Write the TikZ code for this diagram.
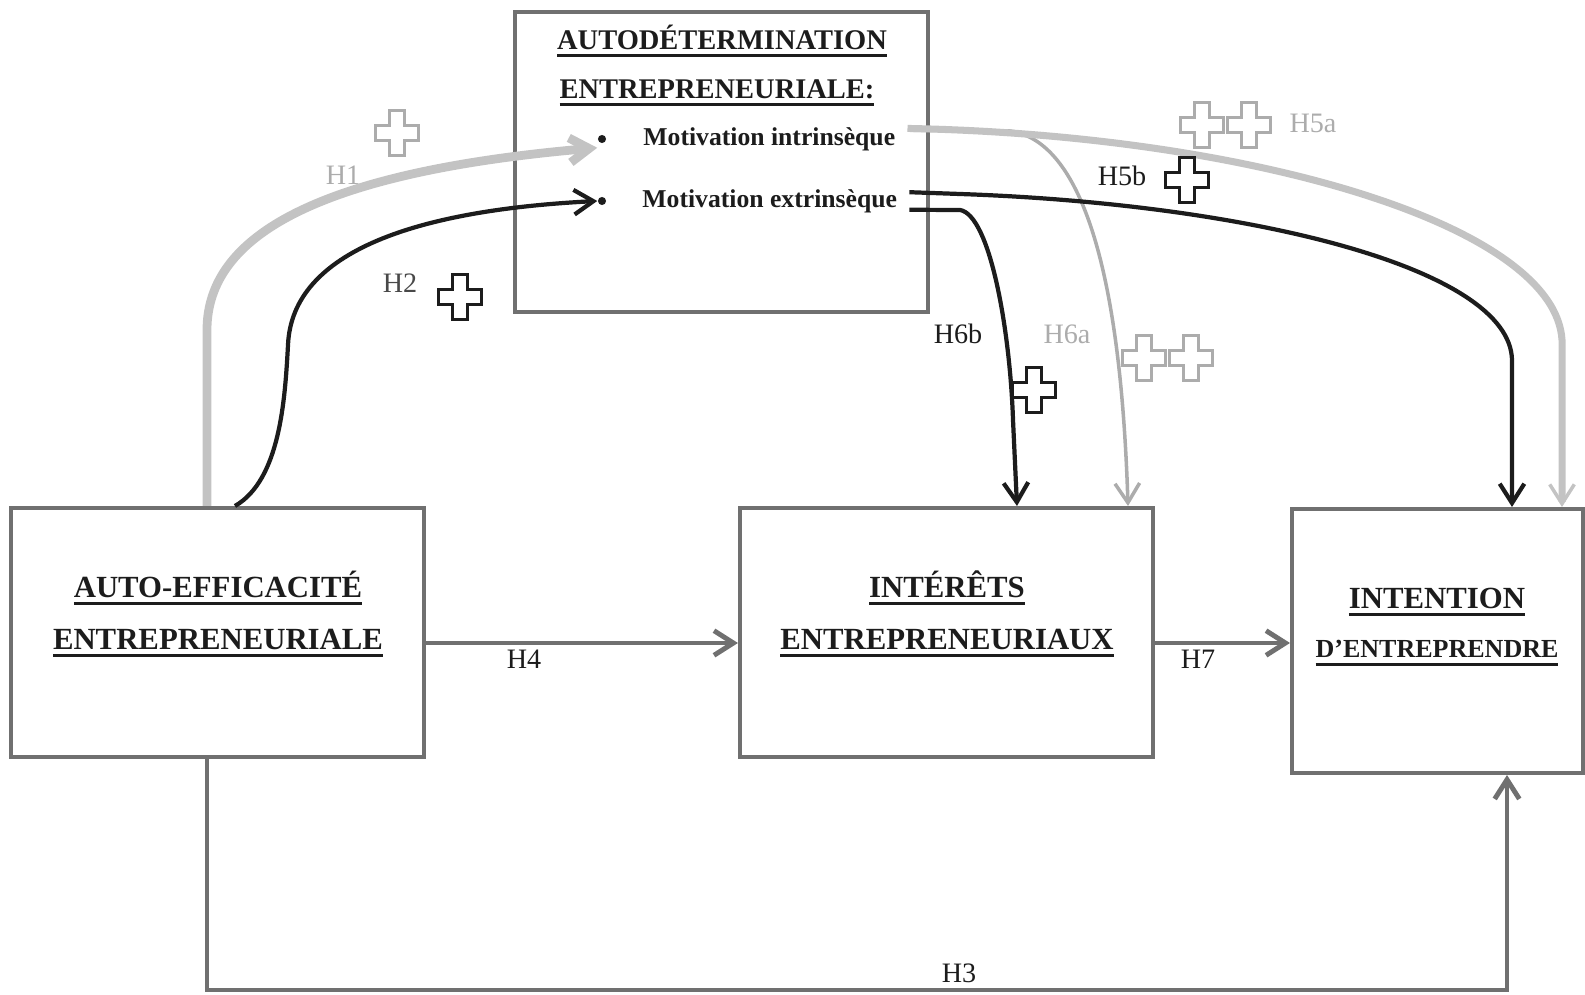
\documentclass[tikz,border=0pt]{standalone}
\usepackage{fontspec}
\setmainfont{Liberation Serif}
\usepackage{tikz}
\usetikzlibrary{arrows.meta,positioning}
\definecolor{boxgray}{RGB}{112,112,112}
\definecolor{liteline}{RGB}{195,195,195}
\definecolor{midline}{RGB}{172,172,172}
\definecolor{darkline}{RGB}{28,28,28}
\definecolor{labgray}{RGB}{172,172,172}
\newcommand{\ultitle}[1]{\setbox0\hbox{#1}\rlap{\rule[-2.2pt]{\wd0}{0.8pt}}\box0}
\tikzset{
    box/.style={draw=boxgray, line width=1.1pt, inner sep=0pt},
    title/.style={font=\fontsize{8.75}{10}\selectfont\bfseries, text=darkline, inner sep=1pt},
    toptitle/.style={font=\fontsize{8.1}{10}\selectfont\bfseries, text=darkline, inner sep=1pt},
    mot/.style={font=\fontsize{7.3}{9}\selectfont\bfseries, text=darkline},
    dot/.style={circle, fill=darkline, inner sep=0pt, minimum size=2.3pt},
    lab/.style={font=\fontsize{8}{9}\selectfont, inner sep=1pt},
    flow/.style={draw=boxgray, line width=1.4pt},
    lite/.style={draw=liteline, line width=2.5pt},
    midl/.style={draw=midline, line width=1pt},
    dark/.style={draw=darkline, line width=1.2pt},
    plusmark/.pic={\draw[pic actions, fill=white] (-7.5,-22.5) -- (7.5,-22.5) -- (7.5,-7.5) -- (21.5,-7.5) -- (21.5,7.5) -- (7.5,7.5) -- (7.5,22.5) -- (-7.5,22.5) -- (-7.5,7.5) -- (-21.5,7.5) -- (-21.5,-7.5) -- (-7.5,-7.5) -- cycle;}
}
\begin{document}
\begin{tikzpicture}[x=0.01cm, y=-0.01cm, >={Straight Barb[length=5.5pt,width=7pt]}]
                \useasboundingbox (0,0) rectangle (1585,995);
                \node[box, minimum width=4.13cm, minimum height=3cm] at (721.5,162) (autod) {};
                \node[box, minimum width=4.13cm, minimum height=2.49cm] at (217.5,632.5) (self) {};
                \node[box, minimum width=4.13cm, minimum height=2.49cm] at (946.5,632.5) (inter) {};
                \node[box, minimum width=2.91cm, minimum height=2.64cm] at (1437.5,641) (intent) {};
                \node[toptitle] at (722,41) (autod1) {\ultitle{AUTODÉTERMINATION}};
                \node[toptitle] at (717,93) (autod2) {\ultitle{ENTREPRENEURIALE:}};
                \node[dot] at (602,139) (b1) {};
                \node[dot] at (602,201) (b2) {};
                \node[mot, anchor=west] at (631,139) (mi) {Motivation intrinsèque};
                \node[mot, anchor=west] at (630,201) (me) {Motivation extrinsèque};
                \node[title] at (218,588) (self1) {\ultitle{AUTO-EFFICACITÉ}};
                \node[title] at (218,643) (self2) {\ultitle{ENTREPRENEURIALE}};
                \node[title] at (947,588) (inter1) {\ultitle{INTÉRÊTS}};
                \node[title] at (947,643) (inter2) {\ultitle{ENTREPRENEURIAUX}};
                \node[title] at (1437,602) (intent1) {\ultitle{INTENTION}};
                \node[title, font=\fontsize{7.4}{9}\selectfont\bfseries] at (1437,653) (intent2) {\ultitle{D’ENTREPRENDRE}};
                \coordinate (h1) at (207,330);
                \coordinate (h2) at (235,345);
                \coordinate (h5a) at (1562,340);
                \coordinate (h5b) at (1512,360);
                \coordinate (h6a) at (1128,508);
                \coordinate (h6b) at (1017,420);
                \coordinate (h3a) at (207,990);
                \coordinate (h3b) at (1507,990);
                \draw[lite, ->] (self.north -| h1) -- (h1) .. controls (207,235) and (320,172) .. ([yshift=-2.5pt]b1.west);
                \draw[dark, ->] (self.north -| h2) .. controls (280,480) and (285,400) .. (288,345) .. controls (292,250) and (420,210) .. (b2.west);
                \draw[midl, ->] ([yshift=2.5pt]mi.east) -- (1010,131) .. controls (1075,140) and (1120,250) .. (inter.north -| h6a);
                \draw[lite, line width=2pt, -{Straight Barb[length=5.5pt,width=7pt,line width=1pt]}] ([yshift=3pt]mi.east) .. controls (1250,135) and (1555,225) .. (h5a) -- (intent.north -| h5a);
                \draw[dark, ->] ([yshift=2.5pt]me.east) -- (960,194) .. controls (1250,204) and (1510,268) .. (h5b) -- (intent.north -| h5b);
                \draw[dark, ->] ([yshift=-2.5pt]me.east) -- (960,210) .. controls (990,215) and (1010,330) .. (1013,420) -- (inter.north -| h6b);
                \draw[flow, ->] (self.east |- self2) -- (inter.west |- self2);
                \draw[flow, ->] (inter.east |- inter2) -- (intent.west |- inter2);
                \draw[flow, ->] (self.south -| h3a) |- (h3b) -- (intent.south -| h3b);
                \node[lab, text=labgray] at (343,175) (l1) {H1};
                \node[lab, text=darkline!80] at (400,283) (l2) {H2};
                \node[lab, text=darkline] at (959,973) (l3) {H3};
                \node[lab, text=darkline] at (524,659) (l4) {H4};
                \node[lab, text=labgray] at (1313,123) (l5a) {H5a};
                \node[lab, text=darkline] at (1122,176) (l5b) {H5b};
                \node[lab, text=labgray] at (1067,334) (l6a) {H6a};
                \node[lab, text=darkline] at (958,334) (l6b) {H6b};
                \node[lab, text=darkline] at (1198,659) (l7) {H7};
                \pic[draw=labgray, line width=0.9pt] (p1) at (397,133) {plusmark};
                \pic[draw=darkline, line width=1.1pt] (p2) at (460,297) {plusmark};
                \pic[draw=labgray, line width=0.9pt] (p5a) at (1202,125) {plusmark};
                \pic[draw=labgray, line width=0.9pt] (p5aa) at (1249,125) {plusmark};
                \pic[draw=darkline, line width=1.1pt] (p5b) at (1187,180) {plusmark};
                \pic[draw=labgray, line width=0.9pt] (p6a) at (1144,358) {plusmark};
                \pic[draw=labgray, line width=0.9pt] (p6aa) at (1191,358) {plusmark};
                \pic[draw=darkline, line width=1.1pt] (p6b) at (1034,390) {plusmark};
            \end{tikzpicture}
\end{document}
